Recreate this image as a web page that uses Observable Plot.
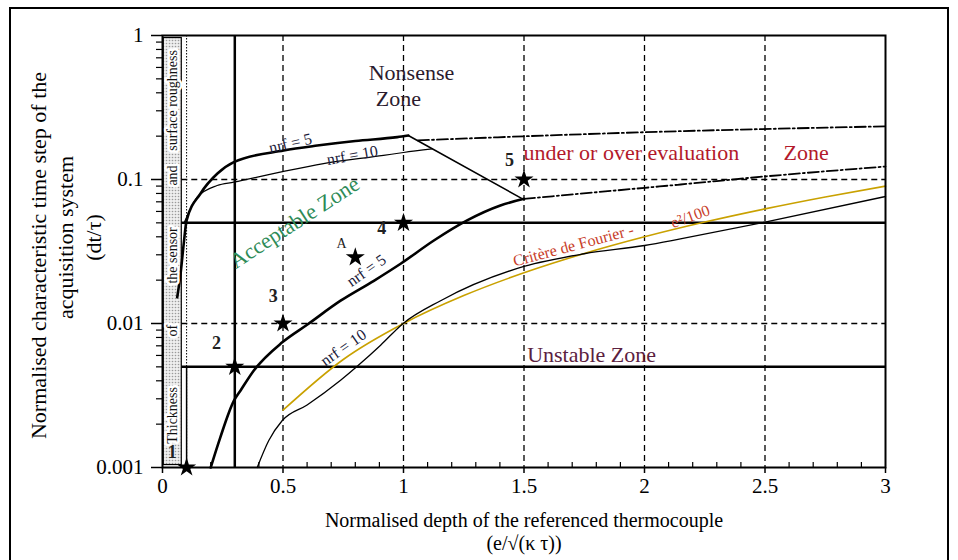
<!DOCTYPE html>
<html><head><meta charset="utf-8">
<script src="https://cdn.jsdelivr.net/npm/d3@7"></script>
<script src="https://cdn.jsdelivr.net/npm/@observablehq/plot@0.6"></script>
<style>
html,body{margin:0;padding:0;background:#fff;overflow:hidden;}
#wrap{position:relative;width:958px;height:560px;}
#box{position:absolute;left:9px;top:7px;width:936px;height:600px;border:2px solid #000;pointer-events:none;}
#chart{position:absolute;left:0;top:0;}
</style></head><body><div id="wrap"><div id="chart"></div><div id="box"></div></div>
<script>
// ---- ticks ----
const xTicks = [0, 0.5, 1, 1.5, 2, 2.5, 3];
const xTickLabels = ["0", "0.5", "1", "1.5", "2", "2.5", "3"];
const xMinorTicks = [0.1,0.2,0.3,0.4,0.6,0.7,0.8,0.9,1.1,1.2,1.3,1.4,1.6,1.7,1.8,1.9,2.1,2.2,2.3,2.4,2.6,2.7,2.8,2.9];
const yTicks = [0.001, 0.01, 0.1, 1];
const yTickLabels = ["0.001", "0.01", "0.1", "1"];
const yMinorTicks = [0.002,0.003,0.004,0.005,0.006,0.007,0.008,0.009,0.02,0.03,0.04,0.05,0.06,0.07,0.08,0.09,0.2,0.3,0.4,0.5,0.6,0.7,0.8,0.9];

// ---- reference lines ----
const gridX = [0.5, 1, 1.5, 2, 2.5];
const gridY = [0.01, 0.1];
const limitY = [0.005, 0.05];
const limitX = [0.3];
const sensorX = [0.1];
const stripe = [{x1: 0.005, x2: 0.08, y1: 0.00104, y2: 0.96}];
const sensorDrop = [{x: 0.1, y1: 0.001, y2: 0.005}];

// ---- curves [x, y] ----
const upperNrf5 = [[0.061,0.0152],[0.075,0.0222],[0.088,0.0357],[0.1,0.052],[0.158,0.08],[0.228,0.11],[0.296,0.132],[0.503,0.159],[0.642,0.172],[0.8,0.185],[0.974,0.197],[1.02,0.202]];
const upperNrf10 = [[0.09,0.05],[0.144,0.0754],[0.227,0.0908],[0.296,0.0958],[0.503,0.114],[0.668,0.129],[0.917,0.147],[1.0,0.154],[1.119,0.163]];
const diagonal = [[1.02,0.202],[1.49,0.074]];
const upperDashDot = [[1.06,0.187],[2.0,0.213],[3.0,0.234]];
const lowerNrf5 = [[0.2,0.001],[0.24,0.00162],[0.296,0.0029],[0.324,0.00343],[0.379,0.00472],[0.497,0.0074],[0.6,0.0098],[0.739,0.0144],[0.877,0.0198],[0.988,0.026],[1.126,0.0377],[1.264,0.052],[1.402,0.066],[1.5,0.0734]];
const lowerDashDot = [[1.5,0.0734],[2.0,0.0875],[2.15,0.0923],[2.5,0.105],[3.0,0.123]];
const lowerNrf10 = [[0.393,0.001],[0.441,0.00154],[0.497,0.00212],[0.6,0.00272],[0.739,0.00404],[0.808,0.00505],[0.905,0.00707],[0.995,0.0099],[1.154,0.0144],[1.5,0.0249],[1.75,0.0305],[2.0,0.0348],[2.149,0.0387],[2.5,0.0506],[3.0,0.0762]];
const fourier = [[0.5,0.0025],[0.75,0.005625],[1,0.01],[1.25,0.015625],[1.5,0.0225],[1.75,0.030625],[2,0.04],[2.25,0.050625],[2.5,0.0625],[2.75,0.075625],[3,0.09]];

// ---- points ----
const starPts = [{x:0.1,y:0.001},{x:0.3,y:0.005},{x:0.5,y:0.01},{x:0.8,y:0.0288},{x:1.0,y:0.05},{x:1.5,y:0.1}];
const starLabels = [{x:0.04,y:0.00127,t:"1"},{x:0.224,y:0.0073,t:"2"},{x:0.46,y:0.0154,t:"3"},{x:0.91,y:0.0457,t:"4"},{x:1.44,y:0.1355,t:"5"}];
const starLabelA = [{x:0.743,y:0.036,t:"A"}];

// ---- annotations ----
const darkZone = [{x:1.033,y:0.553,t:"Nonsense"},{x:0.979,y:0.365,t:"Zone"}];
const redZone = [{x:1.498,y:0.152,t:"under or over evaluation"},{x:2.577,y:0.152,t:"Zone"}];
const unstableZone = [{x:1.513,y:0.006,t:"Unstable Zone"}];
const acceptZone = [{x:0.548,y:0.0503,t:"Acceptable Zone",r:-33}];
const nrfLabels = [{x:0.531,y:0.178,t:"nrf = 5",r:-13},{x:0.788,y:0.147,t:"nrf = 10",r:-10},{x:0.846,y:0.0233,t:"nrf = 5",r:-35},{x:0.751,y:0.0068,t:"nrf = 10",r:-35}];
const fourierLabels = [{x:1.705,y:0.0348,t:"Critère de Fourier -",r:-15},{x:2.19,y:0.0553,t:"e²/100",r:-20}];
const stripeWords = [{x:0.042,y:0.0023,t:"Thickness"},{x:0.042,y:0.0089,t:"of"},{x:0.042,y:0.0297,t:"the sensor"},{x:0.042,y:0.1066,t:"and"},{x:0.042,y:0.354,t:"surface roughness"}];
const yTitle = ["Normalised characteristic time step of the", "acquisition system", "(dt/τ)"];
const xTitle = ["Normalised depth of the referenced thermocouple", "(e/√(κ τ))"];

const X = d => d[0], Y = d => d[1];
const dashDot = "11,3,2,3";

const chart = Plot.plot({
  width: 958, height: 560,
  marginLeft: 162, marginRight: 73, marginTop: 35, marginBottom: 93,
  style: {fontFamily: "'Liberation Serif','Times New Roman',serif", fontSize: "20px", background: "transparent", color: "#000"},
  x: {domain: [0, 3], label: null},
  y: {type: "log", domain: [0.001, 1], label: null},
  marks: [
    Plot.rect(stripe, {x1: "x1", x2: "x2", y1: "y1", y2: "y2", fill: "url(#stripeDots)", stroke: "#000", strokeWidth: 1.2}),
    Plot.ruleX(gridX, {strokeDasharray: "6,4", strokeWidth: 1.3}),
    Plot.ruleY(gridY, {x1: 0.08, x2: 3, strokeDasharray: "6,4", strokeWidth: 1.3}),
    Plot.ruleX(sensorX, {strokeDasharray: "1.5,1.5", strokeWidth: 1}),
    Plot.ruleX(sensorDrop, {x: "x", y1: "y1", y2: "y2", strokeWidth: 1.5}),
    Plot.ruleX(limitX, {strokeWidth: 2.5}),
    Plot.ruleY(limitY, {x1: 0.08, x2: 3, strokeWidth: 2.5}),
    Plot.line(fourier, {x: X, y: Y, stroke: "#c9a100", strokeWidth: 1.6, curve: "monotone-x"}),
    Plot.line(upperNrf5, {x: X, y: Y, strokeWidth: 2.6, curve: "monotone-x"}),
    Plot.line(upperNrf10, {x: X, y: Y, strokeWidth: 1.2, curve: "monotone-x"}),
    Plot.line(diagonal, {x: X, y: Y, strokeWidth: 1.5}),
    Plot.line(upperDashDot, {x: X, y: Y, strokeWidth: 1.8, strokeDasharray: dashDot, curve: "monotone-x"}),
    Plot.line(lowerNrf5, {x: X, y: Y, strokeWidth: 2.6, curve: "monotone-x"}),
    Plot.line(lowerDashDot, {x: X, y: Y, strokeWidth: 1.8, strokeDasharray: dashDot, curve: "monotone-x"}),
    Plot.line(lowerNrf10, {x: X, y: Y, strokeWidth: 1.3, curve: "monotone-x"}),
    Plot.dot(starPts, {x: "x", y: "y", symbol: "star", r: 6, fill: "#000", stroke: "none"}),
    Plot.text(starLabels, {x: "x", y: "y", text: "t", fontSize: 18, fontWeight: "bold", fill: "#222"}),
    Plot.text(starLabelA, {x: "x", y: "y", text: "t", fontSize: 14, fill: "#222"}),
    Plot.text(darkZone, {x: "x", y: "y", text: "t", fontSize: 22, fill: "#2b1b2e"}),
    Plot.text(redZone, {x: "x", y: "y", text: "t", fontSize: 22, fill: "#b3192b", textAnchor: "start"}),
    Plot.text(unstableZone, {x: "x", y: "y", text: "t", fontSize: 22, fill: "#5b2140", textAnchor: "start"}),
    Plot.text(acceptZone, {x: "x", y: "y", text: "t", rotate: d => d.r, fontSize: 22, fill: "#2e8b57"}),
    Plot.text(nrfLabels, {x: "x", y: "y", text: "t", rotate: d => d.r, fontSize: 16, fill: "#1a1a3a"}),
    Plot.text(fourierLabels, {x: "x", y: "y", text: "t", rotate: d => d.r, fontSize: 16, fill: "#c8402a"}),
    Plot.text(stripeWords, {x: "x", y: "y", text: "t", rotate: -90, fontSize: 14, fill: "#111", stroke: "#fff", strokeWidth: 5}),
    Plot.axisX(xTicks, {tickSize: 6, tickPadding: 5, fontSize: 21, strokeWidth: 1.5, tickFormat: d => xTickLabels[xTicks.indexOf(d)], label: null}),
    Plot.axisX(xMinorTicks, {tickSize: 5, dy: -5, tickFormat: () => "", strokeWidth: 1.2, label: null}),
    Plot.axisY(yTicks, {tickSize: 11, tickPadding: 8, fontSize: 21, strokeWidth: 1.5, tickFormat: d => yTickLabels[yTicks.indexOf(d)], label: null}),
    Plot.axisY(yMinorTicks, {tickSize: 6, tickFormat: () => "", strokeWidth: 1.2, label: null}),
    Plot.frame({strokeWidth: 2}),
    Plot.text([yTitle[0]], {frameAnchor: "left", text: d => d, rotate: -90, textAnchor: "middle", lineAnchor: "middle", dx: -124, dy: 4, fontSize: 22}),
    Plot.text([yTitle[1]], {frameAnchor: "left", text: d => d, rotate: -90, textAnchor: "middle", lineAnchor: "middle", dx: -97, dy: -14, fontSize: 22}),
    Plot.text([yTitle[2]], {frameAnchor: "left", text: d => d, rotate: -90, textAnchor: "middle", lineAnchor: "middle", dx: -69, dy: -14, fontSize: 22}),
    Plot.text([xTitle[0]], {frameAnchor: "bottom", text: d => d, textAnchor: "middle", lineAnchor: "middle", dy: 53, fontSize: 20}),
    Plot.text([xTitle[1]], {frameAnchor: "bottom", text: d => d, textAnchor: "middle", lineAnchor: "middle", dy: 76, fontSize: 20})
  ]
});

// dotted pattern for the sensor-thickness stripe
const svg = d3.select(chart);
const defs = svg.insert("defs", ":first-child");
const pat = defs.append("pattern").attr("id", "stripeDots").attr("width", 3).attr("height", 3).attr("patternUnits", "userSpaceOnUse");
pat.append("rect").attr("width", 3).attr("height", 3).attr("fill", "#eeeeee");
pat.append("circle").attr("cx", 1.5).attr("cy", 1.5).attr("r", 0.8).attr("fill", "#9a9a9a");

document.getElementById("chart").append(chart);
</script>
</body></html>
